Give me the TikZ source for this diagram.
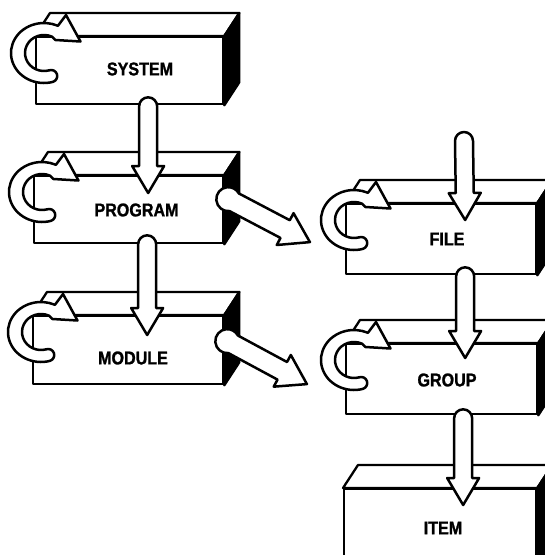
\documentclass[tikz,border=0pt]{standalone}
\usepackage{fontspec}
\newfontfamily\labfont{Liberation Sans}[FakeStretch=0.87,FakeBold=1.2]
\usetikzlibrary{calc}
\tikzset{
  face/.style={draw=black, fill=white, line width=2.3pt, line join=round, inner sep=0pt},
  topf/.style={draw=black, fill=white, line width=2.3pt, line join=round},
  side/.style={draw=black, fill=black, line width=2.3pt, line join=round},
  blk/.style={draw=black, fill=white, line width=2.5pt, line join=round},
  lab/.style={font=\labfont\bfseries\fontsize{18.5}{20}\selectfont, inner sep=0pt},
}
% name, x, y, width, height of the front face
\newcommand\solidbox[5]{%
  \node[face, anchor=north west, minimum width=#4pt, minimum height=#5pt] (#1) at (#2,#3) {};
  \draw[topf] (#1.north west) -- ++(15,-23) -- ($(#1.north east)+(15,-23)$) -- (#1.north east) -- cycle;
  \draw[side] (#1.north east) -- ++(15,-23) -- ($(#1.south east)+(15,-23)$) -- (#1.south east) -- cycle;
}
% curled self arrow at the left of a box
\newcommand\curl[1]{%
  \begin{scope}[shift={($(#1.north west)+(9,17)$)}]
    \draw[blk] (74:33 and 30) arc[start angle=74,end angle=295,x radius=33,y radius=30]
      -- (22,-38) -- (36.5,-11.5) -- (11.5,-13)
      -- (295:19 and 18) arc[start angle=295,end angle=74,x radius=19,y radius=18]
      arc[start angle=251.3,end angle=431.3,radius=6.07] -- cycle;
  \end{scope}}
% block arrow: start, end, shaft half width, cap radius, head half width, head length
\newcommand\blockarr[6]{%
  \path #1 coordinate (baS) #2 coordinate (baE);
  \pgfmathanglebetweenpoints{\pgfpointanchor{baS}{center}}{\pgfpointanchor{baE}{center}}%
  \let\baA\pgfmathresult
  \pgfpointdiff{\pgfpointanchor{baS}{center}}{\pgfpointanchor{baE}{center}}%
  \pgfgetlastxy{\bdx}{\bdy}%
  \pgfmathsetmacro\baL{veclen(\bdx,\bdy)}%
  \pgfmathsetmacro\baa{sqrt((#4)*(#4)-(#3)*(#3))}%
  \pgfmathsetmacro\bat{atan2(#3,\baa)}%
  \begin{scope}[shift={(baS)}, rotate=\baA]
    \draw[blk] (\baa,-#3) -- (\baL-#6,-#3) -- (\baL-#6,-#5) -- (\baL,0)
      -- (\baL-#6,#5) -- (\baL-#6,#3) -- (\baa,#3)
      arc[start angle=\bat, end angle=360-\bat, radius=#4] -- cycle;
  \end{scope}}
\begin{document}
\begin{tikzpicture}[x=1pt,y=-1pt]
  \useasboundingbox (0,0) rectangle (545,555);
  \clip (0,0) rectangle (545,555);
  \fill[white] (0,0) rectangle (545,555);
  % boxes
  \solidbox{system}{35}{36}{187}{67}
  \solidbox{program}{33}{175}{189}{67}
  \solidbox{module}{32}{315}{190}{68}
  \solidbox{file}{345}{203}{190}{70}
  \solidbox{group}{345}{343}{191}{70}
  \solidbox{item}{343}{488}{192}{90}
  % labels
  \node[lab] (system-l) at (140,69) {SYSTEM};
  \node[lab] (program-l) at (136.5,210) {PROGRAM};
  \node[lab] (module-l) at (133,358) {MODULE};
  \node[lab] (file-l) at (447,239) {FILE};
  \node[lab] (group-l) at (447,380) {GROUP};
  \node[lab] (item-l) at (443,528) {ITEM};
  % curls
  \curl{system}
  \curl{program}
  \curl{module}
  \curl{file}
  \curl{group}
  % connectors
  \coordinate (filein) at (464,141);
  \blockarr{($(system.south)+(18.5,1)$)}{($(program.north)+(19.5,18)$)}{9}{9}{16}{27}
  \blockarr{($(program.south)+(18.5,0)$)}{($(module.north)+(19,20)$)}{9}{9}{16}{27}
  \blockarr{(filein)}{($(file.north)+(24,17)$)}{9}{9}{16}{27}
  \blockarr{($(file.south)+(24,1)$)}{($(group.north)+(23.5,15)$)}{9}{9}{16}{27}
  \blockarr{($(group.south)+(21.5,3)$)}{($(item.north)+(23,17)$)}{9}{9}{16}{27}
  \blockarr{($(program.east)+(4,-10.5)$)}{($(file.west)+(-35,3)$)}{10}{12}{18}{28}
  \blockarr{($(module.east)+(3,-9)$)}{($(group.west)+(-38,5)$)}{10}{12}{18}{28}
\end{tikzpicture}
\end{document}
